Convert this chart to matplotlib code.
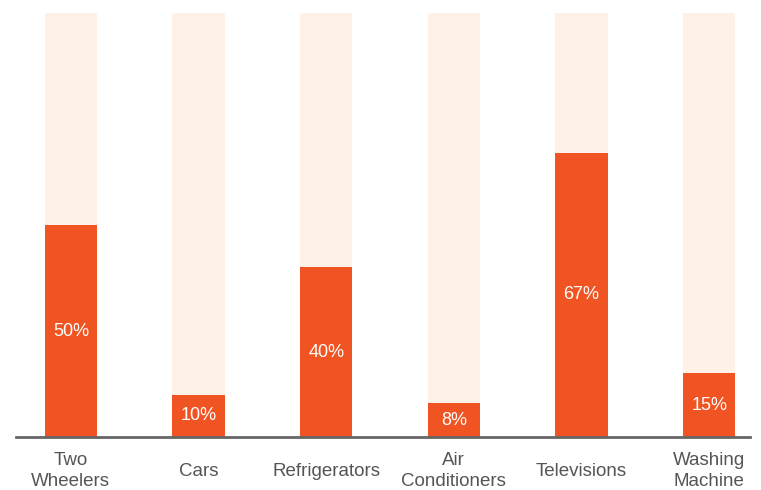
import numpy as np
import matplotlib.pyplot as plt

categories = ["Two\nWheelers", "Cars", "Refrigerators", "Air\nConditioners", "Televisions", "Washing\nMachine"]
values = [50, 10, 40, 8, 67, 15]
full = [100] * len(values)

orange = "#F05423"
peach = "#FDF1E8"

plt.rcParams['font.family'] = ['Liberation Sans', 'DejaVu Sans']

fig = plt.figure(figsize=(7.61, 4.9), dpi=100)
ax = fig.add_axes([16 / 761, 53 / 490, 734 / 761, 424 / 490])

x = np.arange(len(categories))
ax.bar(x, full, width=0.41, color=peach, zorder=1)
ax.bar(x, values, width=0.41, color=orange, zorder=2)

for xi, v in zip(x, values):
    ax.text(xi, v / 2, f"{v}%", ha="center", va="center", color="white", fontsize=13, zorder=3)

ax.set_xlim(-0.43, 5.32)
ax.set_ylim(0, 100)
ax.set_xticks(x)
ax.set_xticklabels(categories, fontsize=13.5, color="#555555", linespacing=1.3)
# centre one-line and two-line labels on the same row
for lbl in ax.get_xticklabels():
    lbl.set_va("center")
ax.tick_params(axis="x", length=0, pad=24.5)
ax.set_yticks([])
for s in ["top", "right", "left"]:
    ax.spines[s].set_visible(False)
ax.spines["bottom"].set_color("#666666")
ax.spines["bottom"].set_linewidth(2)
ax.spines["bottom"].set_zorder(4)

fig.savefig("out.png", dpi=100)
